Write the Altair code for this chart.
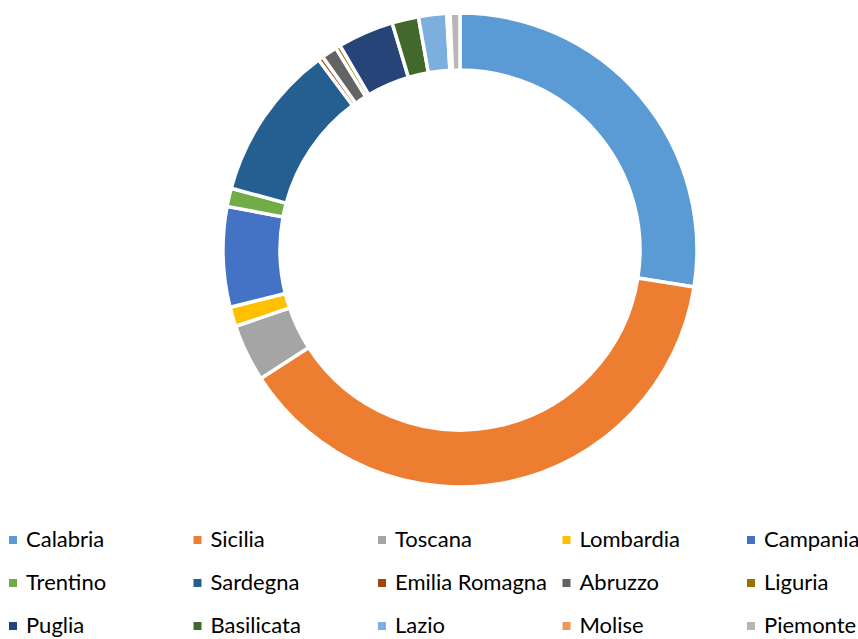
import altair as alt
import pandas as pd

regions = ["Calabria", "Sicilia", "Toscana", "Lombardia", "Campania",
           "Trentino", "Sardegna", "Emilia Romagna", "Abruzzo", "Liguria",
           "Puglia", "Basilicata", "Lazio", "Molise", "Piemonte"]
values = [27.5, 38.4, 3.9, 1.33, 6.83,
          1.25, 10.64, 0.33, 1.06, 0.33,
          3.83, 1.81, 1.92, 0.22, 0.67]
colors = ["#5B9BD5", "#ED7D31", "#A5A5A5", "#FFC000", "#4472C4",
          "#70AD47", "#255E91", "#9E480E", "#636363", "#997300",
          "#264478", "#43682B", "#7CAFDD", "#F1975A", "#B7B7B7"]

df = pd.DataFrame({"Regione": regions, "Valore": values, "ordine": list(range(len(regions)))})

chart = alt.Chart(df).mark_arc(
    radius=237, radius2=180, stroke="white", strokeWidth=3.5
).encode(
    theta=alt.Theta("Valore:Q", stack=True),
    order=alt.Order("ordine:Q"),
    x=alt.value(460),
    y=alt.value(250),
    color=alt.Color(
        "Regione:N",
        scale=alt.Scale(domain=regions, range=colors),
        sort=regions,
        legend=alt.Legend(
            title=None, orient="none", legendX=2, legendY=529,
            direction="horizontal", columns=5, gridAlign="all",
            symbolType="square", symbolSize=64, symbolStrokeWidth=0,
            labelFont="Lato", labelFontSize=22, labelColor="#000000",
            labelOffset=2, columnPadding=7.5, rowPadding=21,
            labelLimit=300,
        ),
    ),
).properties(
    width=858, height=639, autosize=alt.AutoSizeParams(type="none"), padding=0
).configure_view(stroke=None)

chart.save("out.html", embed_options={"renderer": "svg", "actions": False})
